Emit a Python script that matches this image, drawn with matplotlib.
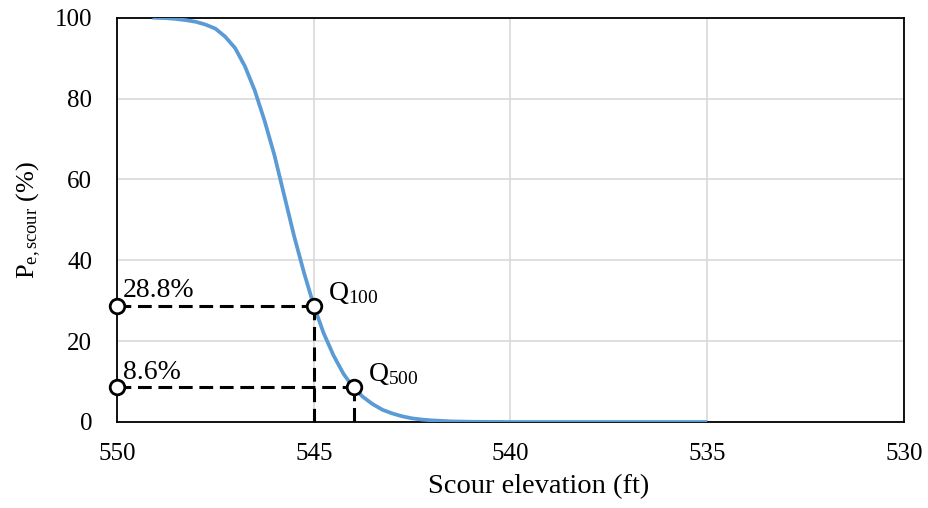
import matplotlib
matplotlib.use("Agg")
import matplotlib.pyplot as plt

plt.rcParams['font.family'] = ['Liberation Serif', 'DejaVu Serif']
plt.rcParams['mathtext.fontset'] = 'custom'
plt.rcParams['mathtext.rm'] = 'Liberation Serif'
plt.rcParams['mathtext.it'] = 'Liberation Serif:italic'

# Data
elevation = [549.1, 548.75, 548.5, 548.25, 548.0, 547.75, 547.5, 547.25, 547.0,
             546.75, 546.5, 546.25, 546.0, 545.75, 545.5, 545.25, 545.0, 544.75,
             544.5, 544.25, 544.0, 543.75, 543.5, 543.25, 543.0, 542.75, 542.5,
             542.25, 542.0, 541.5, 541.0, 540.0, 539.0, 538.0, 537.0, 536.0, 535.0]
p_scour = [100.0, 99.9, 99.7, 99.4, 99.0, 98.3, 97.3, 95.3, 92.5,
           88.0, 82.0, 74.5, 66.0, 56.0, 46.0, 37.0, 28.8, 22.0,
           16.5, 12.0, 8.6, 6.2, 4.4, 3.0, 2.1, 1.4, 0.9,
           0.6, 0.4, 0.15, 0.05, 0.0, 0.0, 0.0, 0.0, 0.0, 0.0]

flood_labels = ["Q$_{100}$", "Q$_{500}$"]
flood_elev = [545.0, 543.98]
flood_p = [28.8, 8.6]
flood_p_labels = ["28.8%", "8.6%"]

x_ticks = [550, 545, 540, 535, 530]
y_ticks = [0, 20, 40, 60, 80, 100]

fig = plt.figure(figsize=(9.29, 5.08), dpi=100)
ax = fig.add_axes([0.126, 0.1693, 0.847, 0.7958])

x_left, x_right = 550, 530
ax.set_xlim(x_left, x_right)
ax.set_ylim(0, 100)

ax.grid(True, color='#d9d9d9', linewidth=1.2, zorder=0)
ax.set_axisbelow(True)

ax.plot(elevation, p_scour, color='#5b9bd5', linewidth=2.7, zorder=3,
        solid_capstyle='butt')

dash = (0, (4.5, 2.2))
for xe, pv, ql, pl in zip(flood_elev, flood_p, flood_labels, flood_p_labels):
    ax.plot([x_left, xe], [pv, pv], color='black', linewidth=2.2,
            linestyle=dash, zorder=4, clip_on=False)
    ax.plot([xe, xe], [pv, 0], color='black', linewidth=2.2,
            linestyle=dash, zorder=4, clip_on=False)
    ax.plot([x_left, xe], [pv, pv], linestyle='none', marker='o',
            markersize=10.5, markerfacecolor='white', markeredgecolor='black',
            markeredgewidth=2.0, zorder=6, clip_on=False)
    ax.text(x_left - 0.15, pv + 2.0, pl, fontsize=20, ha='left', va='baseline',
            zorder=7)
    ax.text(xe - 0.36, pv + 1.5, ql, fontsize=20, ha='left', va='baseline',
            zorder=7)

ax.set_xticks(x_ticks)
ax.set_yticks(y_ticks)
ax.tick_params(axis='both', length=0, labelsize=18)
ax.tick_params(axis='x', pad=15)
ax.tick_params(axis='y', pad=18)

for s in ax.spines.values():
    s.set_color('black')
    s.set_linewidth(1.3)

ax.set_xlabel("Scour elevation (ft)", fontsize=20.5)
ax.xaxis.set_label_coords(0.536, -0.13)
ax.set_ylabel("P$_{\\mathrm{e,scour}}$ (%)", fontsize=19, labelpad=8)

fig.savefig("out.png", dpi=100)
